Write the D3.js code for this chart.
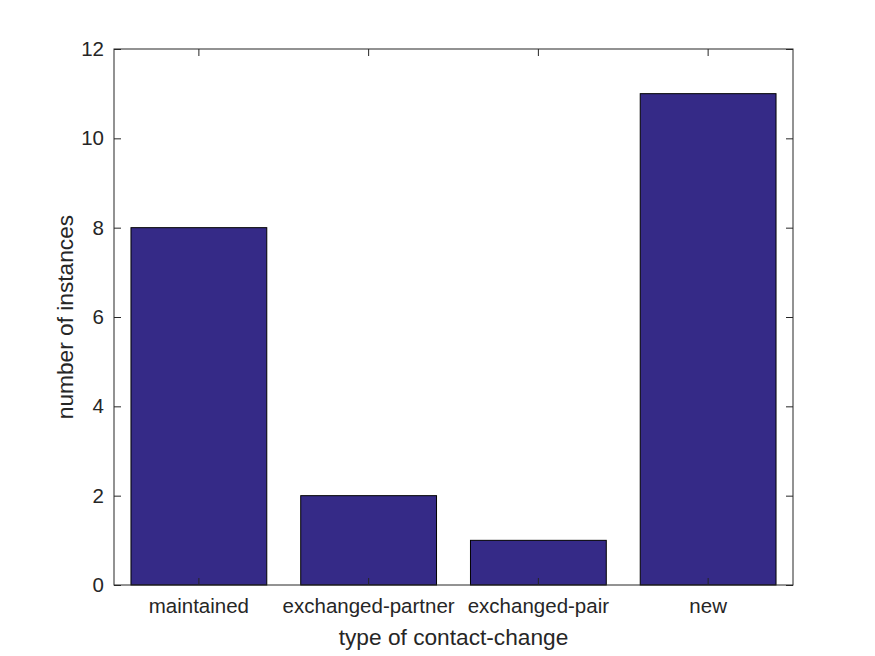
<!DOCTYPE html>
<html>
<head>
<meta charset="utf-8">
<script src="https://cdn.jsdelivr.net/npm/d3@7"></script>
<style>
  body { margin: 0; background: #fff; }
  text { font-family: "Liberation Sans", Arial, sans-serif; fill: #262626; }
</style>
</head>
<body>
<svg id="chart" width="875" height="656"></svg>
<script>
const categories = ['maintained', 'exchanged-partner', 'exchanged-pair', 'new'];
const counts = [8, 2, 1, 11];
const yTicks = [0, 2, 4, 6, 8, 10, 12];

const width = 875, height = 656;
const margin = {top: 49, right: 82, bottom: 71, left: 114};
const w = width - margin.left - margin.right;
const h = height - margin.top - margin.bottom;

const svg = d3.select('#chart');
const g = svg.append('g').attr('transform', `translate(${margin.left},${margin.top})`);

// band scale mimics matlab's xlim [0.5, 4.5] with bar width 0.8
const x = d3.scaleBand().domain(categories).range([0, w]).paddingInner(0.2).paddingOuter(0.1);
const y = d3.scaleLinear().domain([0, 12]).range([h, 0]);

g.selectAll('rect.bar')
  .data(counts)
  .enter()
  .append('rect')
  .attr('class', 'bar')
  .attr('x', (d, i) => x(categories[i]))
  .attr('y', d => y(d))
  .attr('width', x.bandwidth())
  .attr('height', d => h - y(d))
  .attr('fill', '#352a87')
  .attr('stroke', '#000')
  .attr('stroke-width', 1);

// box
g.append('rect')
  .attr('x', 0).attr('y', 0)
  .attr('width', w).attr('height', h)
  .attr('fill', 'none')
  .attr('stroke', '#262626')
  .attr('stroke-width', 1);

const tickLen = 7;
const tickFont = 20.5;

// x ticks, inward, bottom and top
const xg = g.append('g').attr('transform', `translate(0,${h})`)
  .call(d3.axisBottom(x).tickSize(-tickLen).tickPadding(13));
const xTop = g.append('g').call(d3.axisTop(x).tickSize(-tickLen).tickFormat(''));

// y ticks, inward, left and right
const yg = g.append('g').call(d3.axisLeft(y).tickValues(yTicks).tickSize(-tickLen).tickPadding(10));
const yRight = g.append('g').attr('transform', `translate(${w},0)`)
  .call(d3.axisRight(y).tickValues(yTicks).tickSize(-tickLen).tickFormat(''));

[xg, xTop, yg, yRight].forEach(a => {
  a.attr('font-size', tickFont).attr('font-family', '"Liberation Sans", Arial, sans-serif');
  a.select('.domain').remove();
  a.selectAll('line').attr('stroke', '#262626');
  a.selectAll('text').attr('fill', '#262626');
});

// axis labels
svg.append('text')
  .attr('x', margin.left + w / 2)
  .attr('y', 645)
  .attr('text-anchor', 'middle')
  .attr('font-size', 22.7)
  .text('type of contact-change');

svg.append('text')
  .attr('transform', `translate(73,${margin.top + h / 2}) rotate(-90)`)
  .attr('text-anchor', 'middle')
  .attr('font-size', 22.7)
  .text('number of instances');
</script>
</body>
</html>
